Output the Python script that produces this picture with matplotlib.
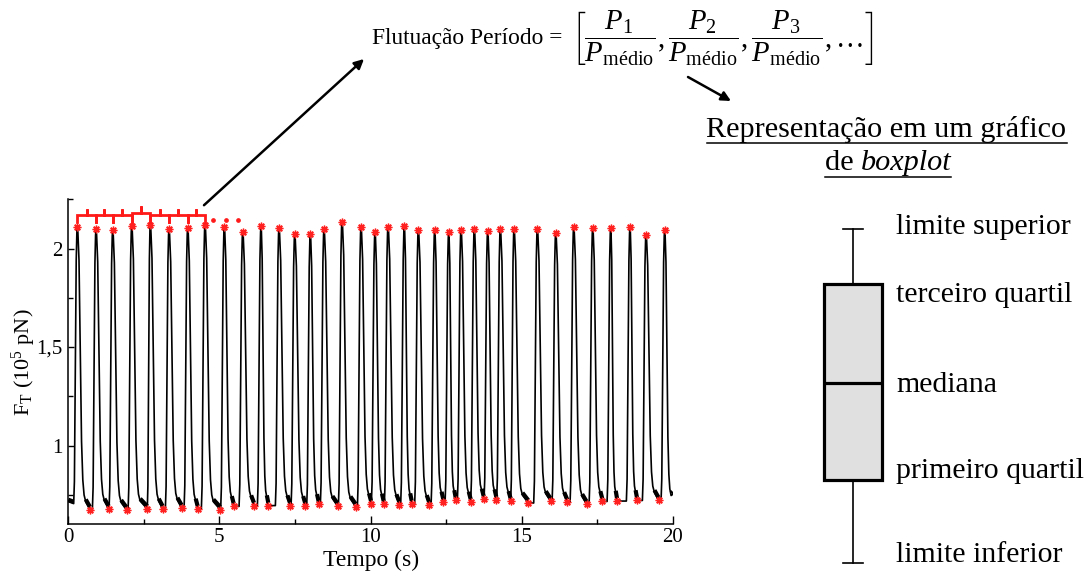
import numpy as np
import matplotlib
matplotlib.use("Agg")
import matplotlib.pyplot as plt
from matplotlib.lines import Line2D
from matplotlib.patches import FancyArrowPatch

W, H = 1089, 573

# ---------------- data ----------------
peak_t = [0.298, 0.917, 1.469, 2.098, 2.713, 3.332, 3.951, 4.523, 5.162, 5.771,
          6.377, 6.972, 7.492, 8.008, 8.461, 9.057, 9.686, 10.149, 10.579, 11.118,
          11.582, 12.124, 12.588, 12.995, 13.435, 13.878, 14.295, 14.749, 15.520, 16.129,
          16.724, 17.353, 17.949, 18.587, 19.117, 19.735]
peak_v = [2.109, 2.098, 2.093, 2.114, 2.120, 2.098, 2.104, 2.120, 2.109, 2.084,
          2.113, 2.103, 2.072, 2.072, 2.098, 2.137, 2.109, 2.083, 2.111, 2.113,
          2.093, 2.093, 2.084, 2.096, 2.099, 2.088, 2.098, 2.099, 2.099, 2.079,
          2.109, 2.104, 2.106, 2.108, 2.071, 2.093]
trough_t = [0.718, 1.337, 1.933, 2.614, 3.124, 3.752, 4.282, 5.030, 5.473, 6.145,
            6.618, 7.336, 7.843, 8.286, 8.915, 9.510, 10.017, 10.437, 10.953, 11.363,
            11.946, 12.409, 12.819, 13.316, 13.746, 14.163, 14.639, 15.222, 15.963, 16.512,
            17.154, 17.670, 18.157, 18.818, 19.536]
trough_v = [0.674, 0.678, 0.671, 0.678, 0.678, 0.683, 0.678, 0.674, 0.691, 0.695,
            0.695, 0.695, 0.691, 0.701, 0.691, 0.689, 0.705, 0.703, 0.700, 0.705,
            0.696, 0.713, 0.721, 0.713, 0.728, 0.725, 0.716, 0.708, 0.716, 0.711,
            0.701, 0.716, 0.718, 0.721, 0.721]
start_t = [0.0, 0.17]
start_v = [0.715, 0.705]
end_t = 20.0
end_v = 0.752

x_ticks = [0, 5, 10, 15, 20]
x_minor = [2.5, 7.5, 12.5, 17.5]
y_ticks = [1.0, 1.5, 2.0]
y_ticklabels = ["1", "1,5", "2"]
y_minor = [0.75, 1.25, 1.75, 2.25]

n_braces = 7
brace_level = 2.169
brace_raised = 2.180
dots_t = [4.80, 5.21, 5.63]
dots_v = [2.147, 2.147, 2.147]

box_stats = [dict(whislo=0.0, q1=2.48, med=5.38, q3=8.34, whishi=10.0)]
box_labels = ["limite superior", "terceiro quartil", "mediana",
              "primeiro quartil", "limite inferior"]

# ---------------- style ----------------
plt.rcParams['font.family'] = ['Liberation Serif', 'DejaVu Serif']
plt.rcParams['mathtext.fontset'] = 'custom'
plt.rcParams['mathtext.rm'] = 'Liberation Serif'
plt.rcParams['mathtext.it'] = 'Liberation Serif:italic'
plt.rcParams['mathtext.bf'] = 'Liberation Serif:bold'

fig = plt.figure(figsize=(W / 100, H / 100), dpi=100)
renderer = fig.canvas.get_renderer()


def fx(x):
    return x / W


def fy(y):
    return 1 - y / H


def fit_width(txt, target):
    w = txt.get_window_extent(renderer).width
    txt.set_fontsize(txt.get_fontsize() * target / w)


ax = fig.add_axes([fx(68.3), fy(524.3), (672.7 - 68.3) / W, (524.3 - 199.3) / H])

# ---------------- trace ----------------
tt = list(start_t)
vv = list(start_v)
base_t, base_v = [], []
n = len(peak_t)
prev_t, prev_v = start_t[-1], start_v[-1]
for i in range(n):
    tp, vp = peak_t[i], peak_v[i]
    if i > 0:
        prev_t, prev_v = trough_t[i - 1], trough_v[i - 1]
    rs = max(prev_t, tp - 0.12)
    A = vp - prev_v
    if rs > tt[-1]:
        tt.append(rs); vv.append(prev_v)
    for f, g in [(0.2, 0.08), (0.45, 0.5), (0.7, 0.88), (0.88, 0.98), (1.0, 1.0)]:
        tt.append(rs + f * (tp - rs)); vv.append(prev_v + g * A)
    if i < n - 1:
        nt, nv = trough_t[i], trough_v[i]
        vb = nv + 0.04
    else:
        nt, nv = end_t, end_v
        vb = end_v - 0.006
    dd = min(0.28, 0.8 * (nt - tp))
    D = vp - vb
    for f, g in [(0.07, 0.02), (0.2, 0.12), (0.35, 0.45), (0.5, 0.78),
                 (0.65, 0.92), (0.8, 0.975), (1.0, 1.0)]:
        tt.append(tp + f * dd); vv.append(vp - g * D)
    tt.append(nt); vv.append(nv)
    base_t += [tp + dd, nt, np.nan]
    base_v += [vb + 0.012, nv + 0.014, np.nan]
base_t = list(start_t) + [np.nan] + base_t
base_v = [v + 0.01 for v in start_v] + [np.nan] + base_v

ax.plot(tt, vv, color='black', lw=1.2, zorder=2)
ax.plot(base_t, base_v, color='black', lw=3.0, solid_capstyle='butt', zorder=2)
ax.plot(peak_t, peak_v, ls='none', marker=(8, 2, 0), ms=5.5, mew=1.0,
        color='#ff2020', zorder=4)
ax.plot(trough_t, trough_v, ls='none', marker=(8, 2, 0), ms=5.5, mew=1.0,
        color='#ff2020', zorder=4)

# braces
for i in range(n_braces):
    t0, t1 = peak_t[i], peak_t[i + 1]
    tm = 0.5 * (t0 + t1)
    lev = brace_raised if i == 3 else brace_level
    foot = brace_level - 0.034
    bump = lev + 0.034
    ax.plot([t0, t0, tm, tm, tm, t1, t1], [foot, lev, lev, bump, lev, lev, foot],
            color='#ff1a1a', lw=2.0, zorder=5, solid_joinstyle='miter', clip_on=False)
ax.plot(dots_t, dots_v, ls='none', marker='o', ms=2.4, color='#ff1a1a', zorder=5)

ax.set_xlim(0, 20)
ax.set_ylim(0.6, 2.25)
for s in ['top', 'right']:
    ax.spines[s].set_visible(False)
for s in ['left', 'bottom']:
    ax.spines[s].set_linewidth(1.1)
ax.set_xticks(x_ticks)
ax.set_xticklabels([str(v) for v in x_ticks])
ax.set_xticks(x_minor, minor=True)
ax.set_yticks(y_ticks)
ax.set_yticklabels(y_ticklabels)
ax.set_yticks(y_minor, minor=True)
ax.tick_params(which='major', direction='in', length=6, width=1.0, labelsize=15, pad=3)
ax.tick_params(which='minor', direction='in', length=3.5, width=1.0)
ax.tick_params(axis='y', which='major', length=4.5, pad=4)
ax.tick_params(axis='y', which='minor', length=3.5)

fig.text(fx(371), fy(560), 'Tempo (s)', ha='center', va='center', fontsize=17)
fig.text(fx(24), fy(362), r'F$_\mathrm{T}$ (10$^5$ pN)', ha='center', va='center',
         rotation=90, fontsize=16)

# ---------------- formula ----------------
t_left = fig.text(fx(372), fy(44), 'Flutuação Período =', ha='left', va='baseline',
                  fontsize=14)
fit_width(t_left, 192)
formula = (r'$\left[\dfrac{P_1}{P_{\mathrm{médio}}},\dfrac{P_2}{P_{\mathrm{médio}}},'
           r'\dfrac{P_3}{P_{\mathrm{médio}}},\ldots\right]$')
t_f = fig.text(fx(571), fy(38), formula, ha='left', va='center', fontsize=14)
fit_width(t_f, 304)

# arrows
ax.annotate('', xy=(fx(364), fy(59)), xycoords='figure fraction',
            xytext=(4.49, 2.22), textcoords='data', annotation_clip=False,
            arrowprops=dict(arrowstyle='-|>', lw=1.8, color='black',
                            mutation_scale=14, shrinkA=0, shrinkB=0))
fig.add_artist(FancyArrowPatch((fx(688), fy(77)), (fx(731), fy(101)),
                               transform=fig.transFigure, arrowstyle='-|>', lw=1.8,
                               color='black', mutation_scale=14, shrinkA=0, shrinkB=0))

# ---------------- boxplot caption ----------------
t_r = fig.text(fx(886.5), fy(137), 'Representação em um gráfico', ha='center',
               va='baseline', fontsize=22)
fit_width(t_r, 359)
fs = t_r.get_fontsize()
bb = t_r.get_window_extent(renderer)
fig.add_artist(Line2D([bb.x0 / W, bb.x1 / W], [fy(143), fy(143)], color='black',
                      lw=1.1, transform=fig.transFigure))
t_de = fig.text(0, fy(169.5), 'de ', ha='left', va='baseline', fontsize=fs)
t_bp = fig.text(0, fy(169.5), 'boxplot', ha='left', va='baseline', fontsize=fs,
                style='italic')
w_de = t_de.get_window_extent(renderer).width
w_bp = t_bp.get_window_extent(renderer).width
x0 = 888 - 0.5 * (w_de + w_bp)
t_de.set_x(x0 / W)
t_bp.set_x((x0 + w_de) / W)
fig.add_artist(Line2D([x0 / W, (x0 + w_de + w_bp) / W], [fy(176.5), fy(176.5)],
                      color='black', lw=1.1, transform=fig.transFigure))

# ---------------- boxplot schematic ----------------
bax = fig.add_axes([fx(794.7), fy(562.7), 116 / W, (562.7 - 229) / H])
arts = bax.bxp(box_stats, positions=[1], widths=0.5, capwidths=[0.17],
               showfliers=False, patch_artist=True,
               boxprops=dict(facecolor='#e0e0e0', edgecolor='black', linewidth=2.3),
               medianprops=dict(color='black', linewidth=2.3),
               whiskerprops=dict(color='black', linewidth=1.2),
               capprops=dict(color='black', linewidth=1.2))
for k in arts:
    for a in arts[k]:
        a.set_clip_on(False)
bax.set_xlim(0.5, 1.5)
bax.set_ylim(0, 10)
bax.axis('off')

label_y = [234.5, 301.5, 391.5, 478, 561.5]
for lab, y in zip(box_labels, label_y):
    fig.text(fx(896), fy(y), lab, ha='left', va='baseline', fontsize=21.5)

fig.savefig('out.png', dpi=100)
